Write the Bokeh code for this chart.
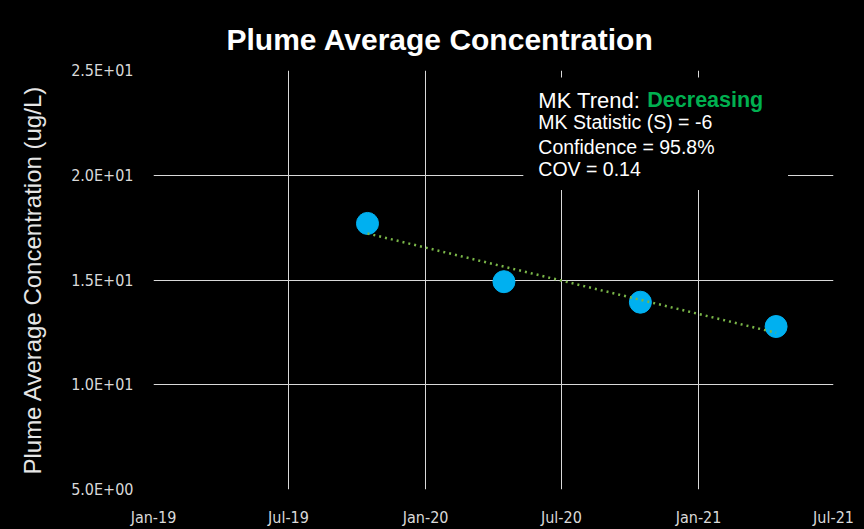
from datetime import datetime
from bokeh.plotting import figure
from bokeh.models import (FixedTicker, BoxAnnotation, Label, DatetimeTickFormatter,
                          Range1d)
from bokeh.embed import file_html
from bokeh.resources import INLINE

# ---------------- data ----------------
sample_dates = ["2019-10-15", "2020-04-15", "2020-10-15", "2021-04-15"]
concentration = [17.70, 14.92, 13.94, 12.78]

trend_dates = ["2019-10-15", "2021-04-15"]
trend_values = [17.22, 12.48]

x_ticks = ["2019-01-01", "2019-07-01", "2020-01-01", "2020-07-01", "2021-01-01", "2021-07-01"]
y_ticks = [5, 10, 15, 20, 25]
y_tick_labels = ["5.0E+00", "1.0E+01", "1.5E+01", "2.0E+01", "2.5E+01"]

mk_trend = "Decreasing"
mk_stat = -6
confidence = "95.8%"
cov = 0.14

title_text = "Plume Average Concentration"
y_label = "Plume Average Concentration (ug/L)"


def ms(s):
    return datetime.strptime(s, "%Y-%m-%d").timestamp() * 1000.0


xs = [ms(d) for d in sample_dates]
tx = [ms(d) for d in trend_dates]
xt = [ms(d) for d in x_ticks]

p = figure(width=864, height=529, x_axis_type="datetime",
           output_backend="svg", toolbar_location=None,
           x_range=Range1d(xt[0], xt[-1]), y_range=Range1d(y_ticks[0], y_ticks[-1]),
           background_fill_color="black", border_fill_color="black",
           min_border_left=153, min_border_right=31, min_border_top=70, min_border_bottom=39)
p.outline_line_color = None

# title
p.title.text = title_text
p.title.text_color = "white"
p.title.text_font = "Liberation Sans"
p.title.text_font_style = "bold"
p.title.text_font_size = "30px"
p.title.align = "left"
p.title.offset = 73
p.title.standoff = 30

# axes
tick_font = "DejaVu Sans Condensed"
for ax in (p.xaxis[0], p.yaxis[0]):
    ax.axis_line_color = None
    ax.major_tick_line_color = None
    ax.minor_tick_line_color = None
    ax.major_tick_in = 0
    ax.major_tick_out = 0
    ax.minor_tick_in = 0
    ax.minor_tick_out = 0
    ax.major_label_text_color = "#d9d9d9"
    ax.major_label_text_font = tick_font
    ax.major_label_text_font_size = "16px"

p.xaxis.ticker = FixedTicker(ticks=xt)
p.xaxis.formatter = DatetimeTickFormatter(months="%b-%y", days="%b-%y", years="%b-%y")
p.xaxis.major_label_standoff = 18

p.yaxis.ticker = FixedTicker(ticks=y_ticks)
p.yaxis.major_label_overrides = dict(zip(y_ticks, y_tick_labels))
p.yaxis.major_label_standoff = 20
p.yaxis.axis_label = y_label
p.yaxis.axis_label_text_font = "Liberation Sans"
p.yaxis.axis_label_text_font_style = "normal"
p.yaxis.axis_label_text_font_size = "24px"
p.yaxis.axis_label_text_color = "#e6e6e6"
p.yaxis.axis_label_standoff = 22

# grids (interior only)
p.xgrid.ticker = FixedTicker(ticks=xt[1:-1])
p.ygrid.ticker = FixedTicker(ticks=y_ticks[1:-1])
for g in (p.xgrid[0], p.ygrid[0]):
    g.grid_line_color = "#d9d9d9"
    g.grid_line_width = 1

# points and trend
p.scatter(xs, concentration, size=22, color="#00B0F0", line_color="#00B0F0")
p.line(tx, trend_values, line_color="#7AB648", line_width=2.5, line_dash="2 4")

# stats box
box_left = ms("2020-05-11")
box_right = ms("2021-05-01")
box_top = 24.67
box_bottom = 19.29
p.add_layout(BoxAnnotation(left=box_left, right=box_right, top=box_top, bottom=box_bottom,
                           fill_color="black", fill_alpha=1.0, line_color=None))

lab_font = "Liberation Sans"
p.add_layout(Label(x=box_left, y=box_top, x_offset=15, y_offset=-23, text="MK Trend:",
                   text_color="white", text_font=lab_font, text_font_size="22px",
                   text_baseline="alphabetic"))
p.add_layout(Label(x=box_left, y=box_top, x_offset=124, y_offset=-23, text=mk_trend,
                   text_color="#00B050", text_font=lab_font, text_font_size="21.5px",
                   text_font_style="bold", text_baseline="alphabetic"))
lines = [f"MK Statistic (S) = {mk_stat}", f"Confidence = {confidence}", f"COV = {cov}"]
offsets = [-45, -69.5, -92]
for t, off in zip(lines, offsets):
    p.add_layout(Label(x=box_left, y=box_top, x_offset=15, y_offset=off, text=t,
                       text_color="white", text_font=lab_font, text_font_size="19.5px",
                       text_baseline="alphabetic"))

html = file_html(p, INLINE)
html = html.replace("<head>", "<head><style>html,body{background:#000;}</style>", 1)
open("out.html", "w").write(html)
